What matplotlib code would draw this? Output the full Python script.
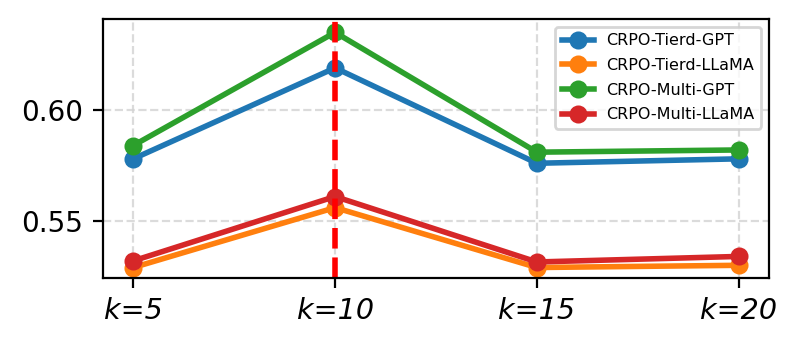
import matplotlib
matplotlib.use('Agg')
import matplotlib.pyplot as plt

ks = ['k=5', 'k=10', 'k=15', 'k=20']
tierd_gpt = [0.578, 0.619, 0.576, 0.578]
tierd_llama = [0.529, 0.556, 0.529, 0.530]
multi_gpt = [0.584, 0.635, 0.581, 0.582]
multi_llama = [0.532, 0.561, 0.5315, 0.534]
best_k = 1

fig, ax = plt.subplots(figsize=(3.99, 1.735), dpi=200)
fig.subplots_adjust(left=0.129, right=0.9637, top=0.945, bottom=0.199)

x = range(len(ks))
ax.plot(x, tierd_gpt, marker='o', lw=2, ms=5.5, label='CRPO-Tierd-GPT')
ax.plot(x, tierd_llama, marker='o', lw=2, ms=5.5, label='CRPO-Tierd-LLaMA')
ax.plot(x, multi_gpt, marker='o', lw=2, ms=5.5, label='CRPO-Multi-GPT')
ax.plot(x, multi_llama, marker='o', lw=2, ms=5.5, label='CRPO-Multi-LLaMA')
ax.axvline(best_k, color='red', linestyle='--', lw=2)

ax.set_xticks(list(x))
ax.set_xticklabels(ks, fontstyle='italic', fontsize=10.3)
ax.set_yticks([0.55, 0.60])
ax.tick_params(axis='y', labelsize=10)
ax.set_ylim(0.5243, 0.641)
ax.grid(True, linestyle='--', color='lightgray', alpha=0.8)
ax.legend(loc='upper right', fontsize=5.75, labelspacing=0.6)

fig.savefig('out.png', dpi=200)
